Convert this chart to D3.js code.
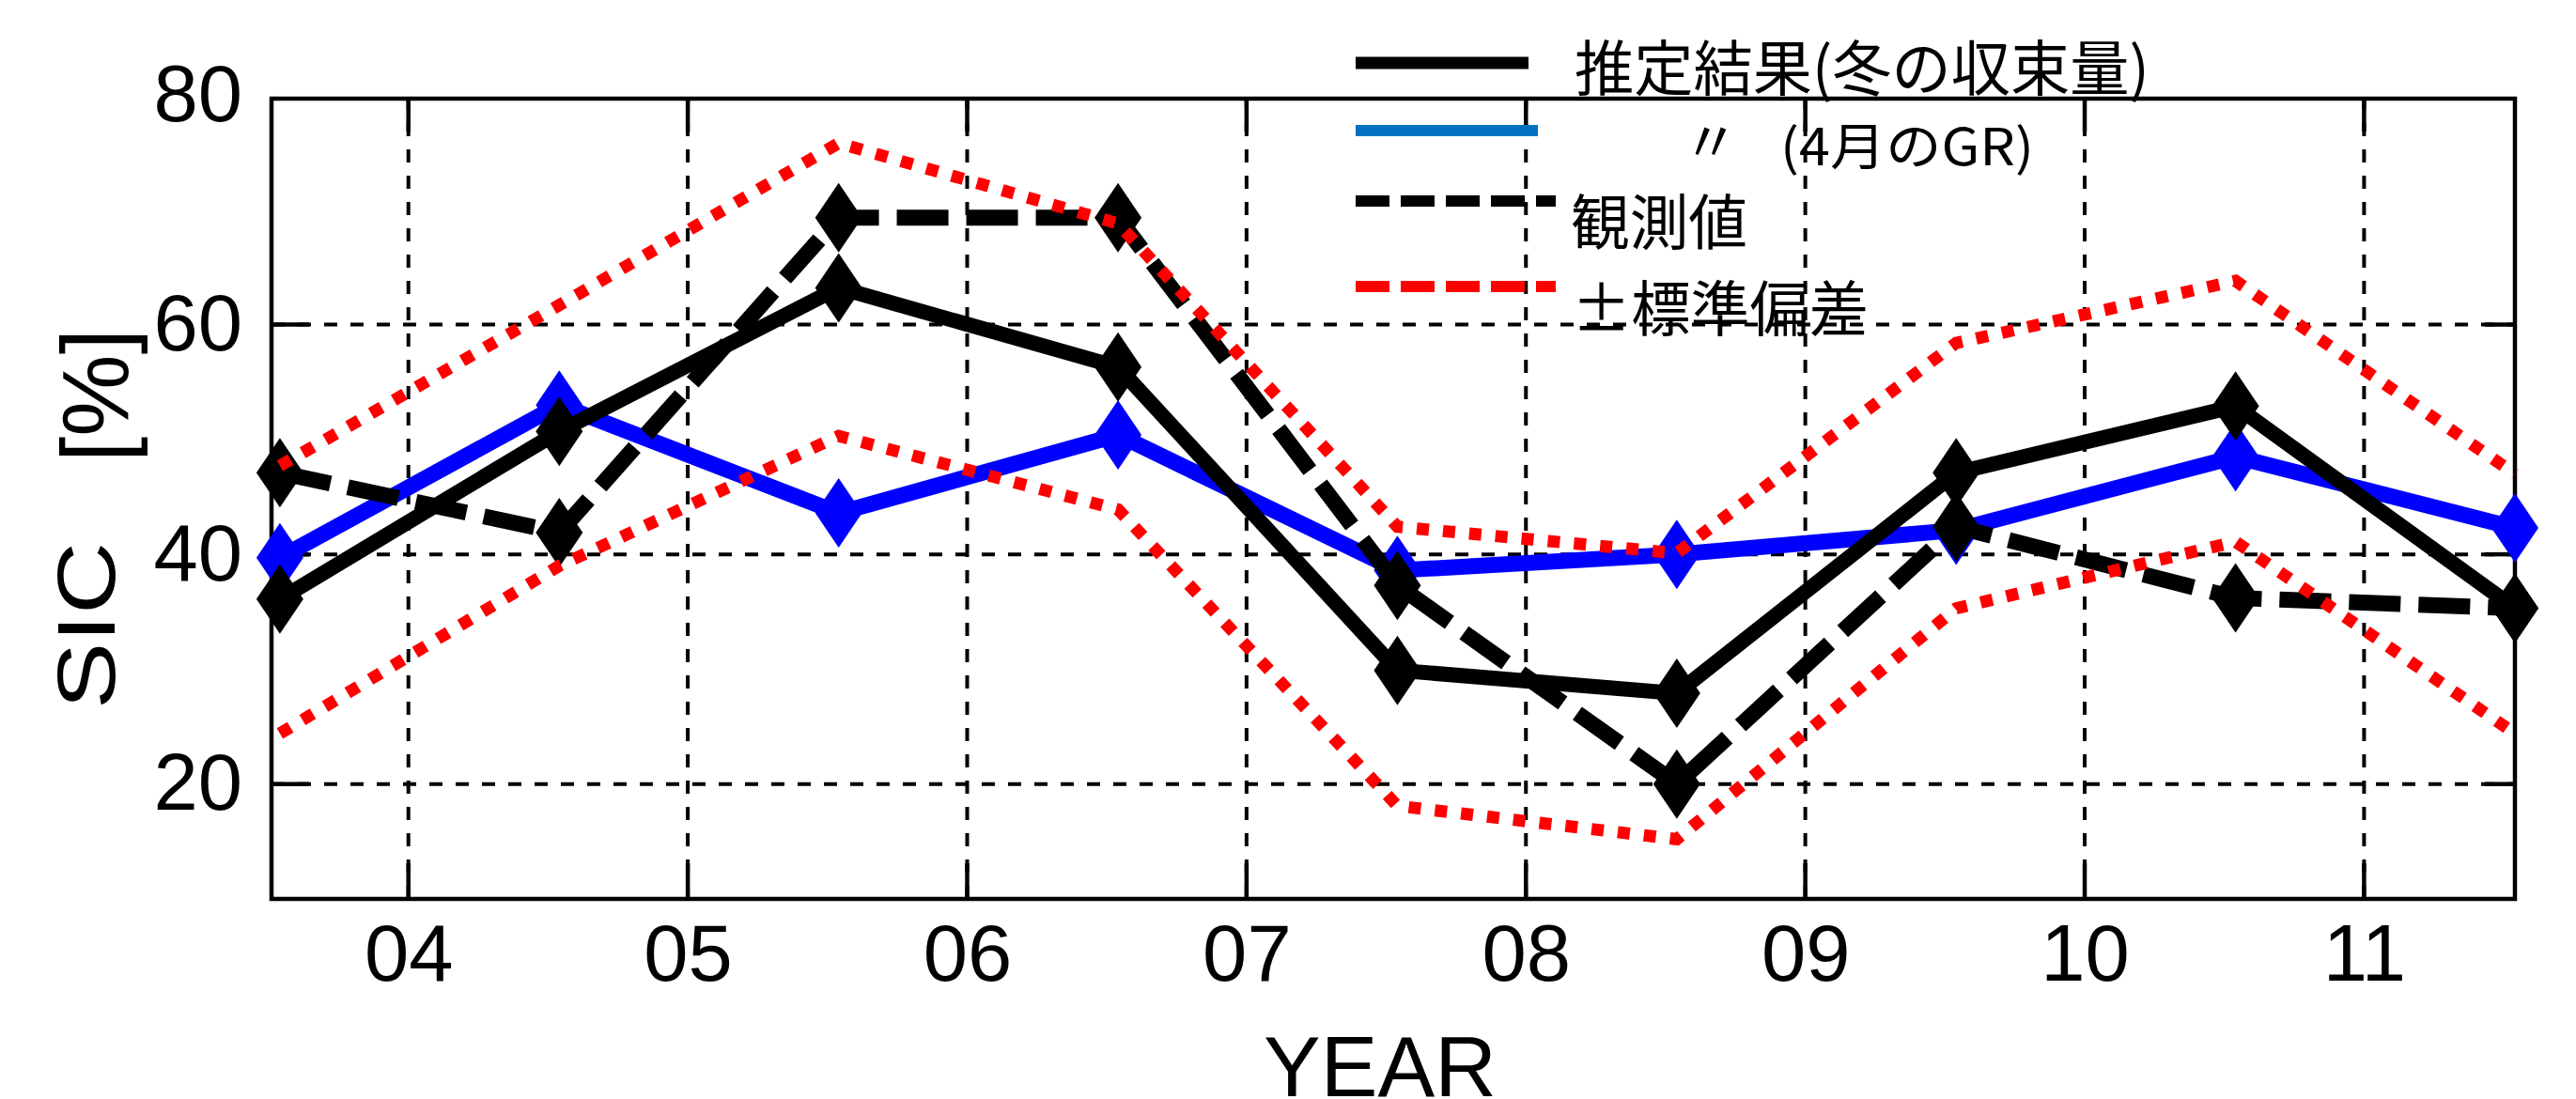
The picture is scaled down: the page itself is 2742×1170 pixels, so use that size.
<!DOCTYPE html>
<html>
<head>
<meta charset="utf-8">
<script src="https://cdn.jsdelivr.net/npm/d3@7"></script>
<style>
  html, body { margin: 0; padding: 0; background: #ffffff; }
  svg { display: block; }
</style>
</head>
<body>
<svg id="chart" width="2742" height="1170"></svg>
<script>
// ---------------- data ----------------
const yearPositions   = [2003.54, 2004.54, 2005.54, 2006.54, 2007.54, 2008.54, 2009.54, 2010.54, 2011.54];
const estimateWinter  = [36.1, 50.7, 63.2, 56.3, 29.9, 27.9, 47.1, 52.9, 35.3]; // 推定結果(冬の収束量)
const estimateAprilGR = [39.7, 53.0, 43.6, 50.4, 38.6, 40.0, 42.1, 48.5, 42.3]; // 〃 (4月のGR)
const observed        = [47.1, 41.9, 69.3, 69.3, 37.3, 20.0, 42.4, 36.2, 35.3]; // 観測値
const sdUpper         = [47.7, 61.7, 75.8, 68.8, 42.4, 40.1, 58.4, 63.8, 47.0]; // +標準偏差
const sdLower         = [24.4, 39.0, 50.3, 43.9, 18.1, 15.2, 35.3, 41.1, 24.4]; // -標準偏差

const xTickValues = [2004, 2005, 2006, 2007, 2008, 2009, 2010, 2011];
const xTickLabels = ["04", "05", "06", "07", "08", "09", "10", "11"];
const yTickValues = [20, 40, 60, 80];
const yGridValues = [20, 40, 60];
const xDomain = [2003.51, 2011.54];
const yDomain = [10, 79.67];

const legendLabels = ["推定結果(冬の収束量)", "〃", "観測値", "±標準偏差"];
const legendSubLabel = "(4月のGR)";
const xTitle = "YEAR";
const yTitleParts = ["SIC", "[%]"];

// ---------------- layout ----------------
const svg = d3.select("#chart");
const plot = { left: 289, right: 2677, top: 105, bottom: 957 };

const x = d3.scaleLinear().domain(xDomain).range([plot.left, plot.right]);
const y = d3.scaleLinear().domain(yDomain).range([plot.bottom, plot.top]);

const tickFont = "'Liberation Sans', Arial, sans-serif";
const cjkFont = "'Noto Sans CJK JP', 'Noto Sans', sans-serif";

// grid
const grid = svg.append("g").attr("stroke", "#000").attr("stroke-width", 4)
  .attr("stroke-dasharray", "14 14").attr("fill", "none");
grid.selectAll("line.vx").data(xTickValues).join("line")
  .attr("x1", d => x(d)).attr("x2", d => x(d))
  .attr("y1", plot.bottom).attr("y2", plot.top);
grid.selectAll("line.hy").data(yGridValues).join("line")
  .attr("y1", d => y(d)).attr("y2", d => y(d))
  .attr("x1", plot.left).attr("x2", plot.right);

// inward tick marks
const ticks = svg.append("g").attr("stroke", "#000").attr("stroke-width", 4.5);
ticks.selectAll("line.tb").data(xTickValues).join("line")
  .attr("x1", d => x(d)).attr("x2", d => x(d)).attr("y1", plot.bottom).attr("y2", plot.bottom - 38);
ticks.selectAll("line.tt").data(xTickValues).join("line")
  .attr("x1", d => x(d)).attr("x2", d => x(d)).attr("y1", plot.top).attr("y2", plot.top + 35);
ticks.selectAll("line.tl").data(yGridValues).join("line")
  .attr("y1", d => y(d)).attr("y2", d => y(d)).attr("x1", plot.left).attr("x2", plot.left + 40);
ticks.selectAll("line.tr").data(yGridValues).join("line")
  .attr("y1", d => y(d)).attr("y2", d => y(d)).attr("x1", plot.right).attr("x2", plot.right - 32);

// frame
svg.append("rect")
  .attr("x", plot.left).attr("y", plot.top)
  .attr("width", plot.right - plot.left).attr("height", plot.bottom - plot.top)
  .attr("fill", "none").attr("stroke", "#000").attr("stroke-width", 4.5);

// axes (labels)
const xAxis = svg.append("g").attr("transform", `translate(0,${plot.bottom})`)
  .call(d3.axisBottom(x).tickValues(xTickValues).tickFormat((d, i) => xTickLabels[i])
        .tickSize(0).tickPadding(27));
const yAxis = svg.append("g").attr("transform", `translate(${plot.left},0)`)
  .call(d3.axisLeft(y).tickValues(yTickValues).tickFormat(d3.format("d"))
        .tickSize(0).tickPadding(31));
[xAxis, yAxis].forEach(g => {
  g.select(".domain").remove();
  g.attr("font-family", tickFont).attr("font-size", 85);
  g.selectAll("text").attr("fill", "#000");
});

// axis titles
svg.append("text").text(xTitle)
  .attr("x", (plot.left + plot.right) / 2 - 14).attr("y", 1167)
  .attr("text-anchor", "middle").attr("font-family", tickFont).attr("font-size", 91)
  .attr("fill", "#000");

const yTitle = svg.append("g").attr("transform", "translate(122,0) rotate(-90)");
yTitle.append("text").text(yTitleParts[0])
  .attr("x", -755).attr("y", 0).attr("text-anchor", "start")
  .attr("font-family", tickFont).attr("font-size", 88).attr("fill", "#000")
  .attr("textLength", 178).attr("lengthAdjust", "spacingAndGlyphs");
yTitle.append("text").text(yTitleParts[1])
  .attr("x", -492).attr("y", 14).attr("text-anchor", "start")
  .attr("font-family", tickFont).attr("font-size", 100).attr("fill", "#000")
  .attr("textLength", 142).attr("lengthAdjust", "spacingAndGlyphs");

// ---------------- series ----------------
const pts = vals => vals.map((v, i) => [yearPositions[i], v]);
const line = d3.line().x(d => x(d[0])).y(d => y(d[1]));
const diamond = "M0,-37L25,0L0,37L-25,0Z";

function drawSeries(vals, color, width, dash, markers) {
  const g = svg.append("g");
  g.append("path").attr("d", line(pts(vals)))
    .attr("fill", "none").attr("stroke", color).attr("stroke-width", width)
    .attr("stroke-linejoin", "miter").attr("stroke-dasharray", dash || null);
  if (markers) {
    g.selectAll("path.m").data(pts(vals)).join("path")
      .attr("d", diamond)
      .attr("transform", d => `translate(${x(d[0])},${y(d[1])})`)
      .attr("fill", color).attr("stroke", "none");
  }
}

drawSeries(estimateAprilGR, "#0000ff", 17, null, true);
drawSeries(estimateWinter, "#000000", 16, null, true);
drawSeries(observed, "#000000", 17, "55 19", true);
drawSeries(sdUpper, "#ff0000", 13, "13 15", false);
drawSeries(sdLower, "#ff0000", 13, "13 15", false);

// ---------------- legend ----------------
const legend = svg.append("g");
const legendItems = [
  { y: 67,  x2: 1627, color: "#000000", width: 13, dash: null },
  { y: 139, x2: 1637, color: "#0070c0", width: 12, dash: null },
  { y: 214, x2: 1656, color: "#000000", width: 12, dash: "36 12" },
  { y: 305, x2: 1656, color: "#ff0000", width: 12, dash: "36 12" }
];
legend.selectAll("line").data(legendItems).join("line")
  .attr("x1", 1443).attr("x2", d => d.x2).attr("y1", d => d.y).attr("y2", d => d.y)
  .attr("stroke", d => d.color).attr("stroke-width", d => d.width)
  .attr("stroke-dasharray", d => d.dash);

const legendText = (txt, xPos, yPos, size, len, anchor) => {
  const t = legend.append("text").text(txt)
    .attr("x", xPos).attr("y", yPos)
    .attr("dominant-baseline", "central")
    .attr("text-anchor", anchor || "start")
    .attr("font-family", cjkFont).attr("font-size", size).attr("fill", "#000");
  if (len) t.attr("textLength", len).attr("lengthAdjust", "spacingAndGlyphs");
  return t;
};
legendText(legendLabels[0], 1676, 68, 64, 612);
legendText(legendLabels[1], 1821, 146, 60, null, "middle");
legendText(legendSubLabel, 1895, 152, 54, 270);
legendText(legendLabels[2], 1672, 232, 64, 188);
legendText(legendLabels[3], 1673, 324, 64, 316);
</script>
</body>
</html>
